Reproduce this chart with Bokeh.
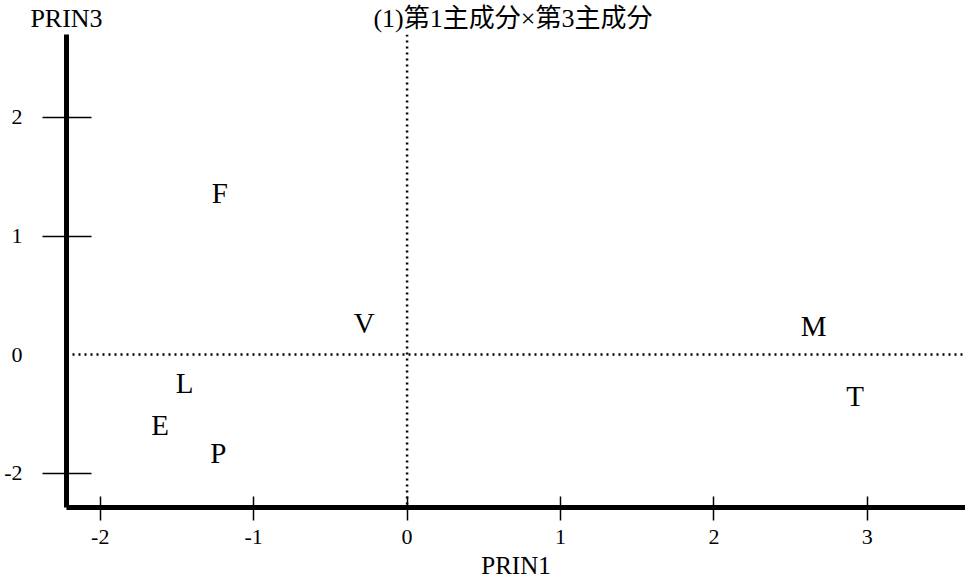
from bokeh.plotting import figure
from bokeh.models import Span, FixedTicker, ColumnDataSource, Range1d, LinearAxis
from bokeh.core.properties import value
from bokeh.embed import file_html
from bokeh.resources import INLINE

# data
names = ["F", "V", "M", "L", "T", "E", "P"]
prin1 = [-1.22, -0.28, 2.65, -1.45, 2.92, -1.61, -1.23]
prin3 = [1.36, 0.27, 0.24, -0.24, -0.35, -0.59, -0.83]

x_ticks = [-2, -1, 0, 1, 2, 3]
x_tick_labels = {-2: "-2", -1: "-1"}
y_ticks = [2, 1, 0, -1]
y_tick_marks = [2, 1, -1]
y_tick_labels = {-1: "-2"}
title_text = "(1)第1主成分×第3主成分"
x_label = "PRIN1"
y_label = "PRIN3"

X_START, X_END = -2.22, 3.64
TITLE_POS = 0.69

SERIF = "Liberation Serif"
MIXED = "Liberation Serif, Noto Sans CJK JP"

p = figure(width=965, height=582,
           x_range=Range1d(X_START, X_END), y_range=Range1d(-1.29, 2.70),
           output_backend="svg", toolbar_location=None,
           min_border_left=66, min_border_right=0,
           min_border_top=33, min_border_bottom=75)
p.outline_line_color = None
p.xgrid.visible = False
p.ygrid.visible = False
p.background_fill_color = "white"
p.border_fill_color = "white"

for ax in (p.xaxis[0], p.yaxis[0]):
    ax.axis_line_width = 5
    ax.axis_line_color = "black"
    ax.major_label_text_font = SERIF
    ax.major_label_text_font_size = "22px"
    ax.major_label_text_color = "black"

p.xaxis.ticker = FixedTicker(ticks=x_ticks)
p.xaxis.major_label_overrides = x_tick_labels
p.xaxis.major_tick_line_color = "black"
p.xaxis.major_tick_line_width = 1.5
p.xaxis.minor_tick_line_color = None
p.xaxis.major_tick_out = 13
p.xaxis.major_tick_in = 11
p.xaxis.major_label_standoff = 9
p.xaxis.axis_label = x_label
p.xaxis.axis_label_text_font = SERIF
p.xaxis.axis_label_text_font_size = "25px"
p.xaxis.axis_label_text_font_style = "normal"
p.xaxis.axis_label_text_color = "black"
p.xaxis.axis_label_standoff = 5

p.yaxis.ticker = FixedTicker(ticks=y_ticks, minor_ticks=y_tick_marks)
p.yaxis.major_label_overrides = y_tick_labels
p.yaxis.major_tick_line_color = None
p.yaxis.major_tick_out = 24
p.yaxis.major_tick_in = 0
p.yaxis.minor_tick_line_color = "black"
p.yaxis.minor_tick_line_width = 1.5
p.yaxis.minor_tick_out = 24
p.yaxis.minor_tick_in = 25
p.yaxis.major_label_standoff = 20

# top texts: y-axis name and chart title
top = LinearAxis(ticker=FixedTicker(ticks=[X_START, TITLE_POS]),
                 major_label_overrides={X_START: y_label, TITLE_POS: title_text})
top.axis_line_color = None
top.major_tick_line_color = None
top.minor_tick_line_color = None
top.major_tick_out = 0
top.major_tick_in = 0
top.major_label_standoff = 2
top.major_label_text_font = MIXED
top.major_label_text_font_size = "26px"
top.major_label_text_color = "black"
p.add_layout(top, "above")

# reference dotted lines
p.add_layout(Span(location=0, dimension="height", line_color="black",
                  line_width=2.5, line_dash="2 4"))
p.add_layout(Span(location=0, dimension="width", line_color="black",
                  line_width=2.5, line_dash="2 4"))

src = ColumnDataSource(dict(x=prin1, y=prin3, name=names))
p.text(x="x", y="y", text="name", source=src, text_align="center",
       text_baseline="middle", text_font=value(SERIF),
       text_font_size="29px", text_color="black")

open("out.html", "w").write(file_html(p, INLINE))
